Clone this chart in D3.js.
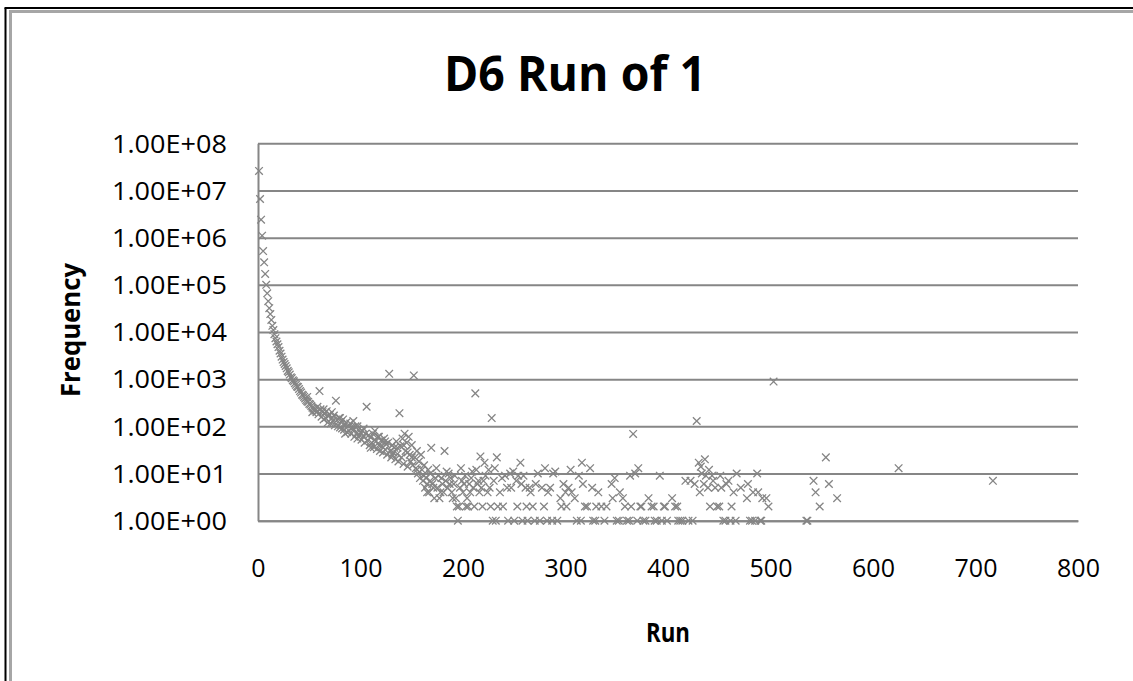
<!DOCTYPE html>
<html>
<head>
<meta charset="utf-8">
<script src="https://cdn.jsdelivr.net/npm/d3@7"></script>
<style>
  html, body { margin: 0; padding: 0; background: #fff; }
  svg { display: block; }
</style>
</head>
<body>
<svg id="chart" width="1133" height="681"></svg>
<script>
// Run length (x) and how often it occurred (y)
const runs = [
  1,2,3,4,5,6,7,8,9,10,11,12,13,14,15,16,17,18,19,20,
  21,22,23,24,25,26,27,28,29,30,31,32,33,34,35,36,37,38,39,40,
  41,42,43,44,45,46,47,48,49,50,51,52,53,54,55,56,57,58,59,60,
  61,62,63,64,65,66,67,68,69,70,71,72,73,74,75,76,77,78,79,80,
  81,82,83,84,85,86,87,88,89,90,91,92,93,94,95,96,97,98,99,100,
  101,102,103,104,105,106,107,108,109,110,111,112,113,114,115,116,117,118,119,120,
  121,122,123,124,125,126,127,128,129,130,131,132,133,134,135,136,137,138,139,140,
  141,142,143,144,145,146,147,148,149,150,151,152,153,154,155,156,157,158,159,160,
  161,162,163,164,165,166,167,168,169,170,172,173,175,176,178,180,182,183,185,186,
  188,189,191,193,194,195,197,199,200,202,204,205,206,208,210,212,213,215,216,217,
  220,221,226,228,229,231,233,236,241,243,244,246,249,252,256,257,259,262,265,266,
  268,273,277,280,283,285,287,288,295,296,298,300,303,306,309,311,313,316,317,321,
  324,326,329,330,335,340,345,346,348,350,353,356,360,363,364,366,368,371,373,376,
  381,386,389,392,396,399,404,409,412,417,420,422,428,430,431,433,436,439,441,443,
  444,448,451,452,456,457,459,462,464,466,467,477,478,482,483,487,488,491,496,498,
  503,535,536,542,544,548,554,557,565,625,717,
  48,53,58,64,72,80,85,93,97,103,110,114,118,124,131,136,142,146,150,155,
  162,165,168,171,174,177,179,181,184,187,190,192,196,198,201,203,207,209,211,214,
  218,219,222,224,225,227,230,232,234,238,239,247,250,253,254,258,261,263,270,271,
  275,279,282,290,292,301,305,315,319,327,332,338,352,358,362,370,374,378,384,387,
  394,397,407,410,414,424,426,432,435,437,440,446,450,454,461,471,480,485,490,492
];
const freqs = [
  26000000,6600000,2400000,1100000,520000,300000,170000,100000,66000,45000,
  32000,24000,18000,13500,11000,9000,7400,6300,5500,4800,
  4000,3500,3000,2600,2300,2100,1900,1700,1500,1400,1250,1100,1050,950,900,820,760,700,680,620,
  560,520,470,450,420,390,360,340,330,300,290,270,250,240,230,215,200,210,180,560,
  230,160,200,140,190,150,210,120,165,175,115,150,130,170,105,350,135,100,150,95,
  125,90,140,85,110,120,75,100,80,115,70,95,85,60,100,70,55,85,65,75,
  52,80,60,45,70,260,50,65,40,58,45,70,36,52,48,33,60,40,30,50,
  38,28,55,32,42,25,45,1300,30,22,40,28,35,20,48,26,18,190,38,22,
  55,16,70,30,45,14,60,25,18,40,15,1200,22,13,30,10,18,8,25,12,
  7,9,5,8,6,12,4,7,35,6,3,8,5,9,4,6,30,7,5,10,
  8,4,6,3,2,1,5,7,4,9,3,2,6,8,5,500,12,7,4,23,
  7,17,5,150,1,13,22,4,9,5,1,10,11,7,17,6,9,2,5,4,
  2,10,5,13,4,5,1,10,3,2,6,4,5,4,3,1,9,17,6,2,
  13,5,1,2,2,2,6,3,8,1,4,3,1,9,2,69,10,13,2,1,
  3,2,1,9,2,1,3,2,1,7,1,7,130,17,4,10,20,5,2,9,
  7,2,9,5,1,6,7,2,4,1,10,3,6,1,4,10,4,1,3,2,
  890,1,1,7,4,2,22,6,3,13,7,
  420,200,260,230,200,150,70,130,100,90,35,80,60,48,25,35,40,28,22,12,
  15,4,10,5,13,3,8,4,11,6,3,9,2,13,6,2,4,11,2,6,
  5,2,9,4,12,2,7,1,2,8,2,5,1,2,9,1,5,1,1,6,
  1,2,1,11,1,2,12,1,2,1,4,1,1,2,1,1,2,1,2,1,
  1,2,2,1,1,1,6,14,6,9,12,5,2,1,1,5,1,1,1,3
];
const xTicks = [0, 100, 200, 300, 400, 500, 600, 700, 800];
const yTicks = [1e0, 1e1, 1e2, 1e3, 1e4, 1e5, 1e6, 1e7, 1e8];
const yTickLabels = ["1.00E+00","1.00E+01","1.00E+02","1.00E+03","1.00E+04","1.00E+05","1.00E+06","1.00E+07","1.00E+08"];

const points = runs.map((r, i) => ({ run: r, freq: freqs[i] }));

const svg = d3.select("#chart");
const FONT = "'Open Sans', 'Noto Sans', 'DejaVu Sans', sans-serif";

// Chart frame: black outer rule, grey inner rule, open on right and bottom
svg.append("line").attr("x1", 5.5).attr("y1", 8).attr("x2", 5.5).attr("y2", 681)
  .attr("stroke", "#000").attr("stroke-width", 2);
svg.append("line").attr("x1", 4.5).attr("y1", 8).attr("x2", 1133).attr("y2", 8)
  .attr("stroke", "#000").attr("stroke-width", 2);
svg.append("line").attr("x1", 10.5).attr("y1", 11.5).attr("x2", 10.5).attr("y2", 681)
  .attr("stroke", "#a6a6a6").attr("stroke-width", 3);
svg.append("line").attr("x1", 9).attr("y1", 11.5).attr("x2", 1133).attr("y2", 11.5)
  .attr("stroke", "#a6a6a6").attr("stroke-width", 3);

const plotLeft = 258, plotRight = 1078, plotTop = 143.3, plotBottom = 520.7;
const x = d3.scaleLinear().domain([0, 800]).range([plotLeft, plotRight]);
const y = d3.scaleLog().domain([1, 1e8]).range([plotBottom, plotTop]);

// Horizontal gridlines with the y tick labels
const yAxis = d3.axisLeft(y)
  .tickValues(yTicks)
  .tickFormat((d, i) => yTickLabels[i])
  .tickSizeInner(-(plotRight - plotLeft))
  .tickSizeOuter(0)
  .tickPadding(31);
const gy = svg.append("g").attr("transform", `translate(${plotLeft},0)`).call(yAxis);
gy.select(".domain").attr("stroke", "#868686").attr("stroke-width", 2);
gy.selectAll(".tick line").attr("stroke", "#868686").attr("stroke-width", 2);
gy.selectAll(".tick text")
  .attr("font-family", FONT).attr("font-size", 25).attr("fill", "#000")
  .attr("textLength", 115).attr("lengthAdjust", "spacingAndGlyphs")
  .attr("dy", "0.35em");

// X axis along the bottom gridline
const xAxis = d3.axisBottom(x)
  .tickValues(xTicks)
  .tickFormat(d3.format("d"))
  .tickSize(0)
  .tickPadding(56);
const gx = svg.append("g").attr("transform", `translate(0,${plotBottom})`).call(xAxis);
gx.select(".domain").attr("stroke", "#868686").attr("stroke-width", 2);
gx.selectAll(".tick text")
  .attr("font-family", FONT).attr("font-size", 25).attr("fill", "#000")
  .attr("dy", "0");

// Scatter markers drawn as small crosses
const cross = "M-3.8,-3.8L3.8,3.8M-3.8,3.8L3.8,-3.8";
svg.append("g").selectAll("path")
  .data(points)
  .join("path")
  .attr("d", cross)
  .attr("transform", d => `translate(${x(d.run)},${y(d.freq)})`)
  .attr("fill", "none")
  .attr("stroke", "#858585")
  .attr("stroke-width", 1.3);

// Title
svg.append("text")
  .attr("x", 575).attr("y", 91)
  .attr("text-anchor", "middle")
  .attr("font-family", FONT).attr("font-weight", "bold").attr("font-size", 48)
  .attr("textLength", 262).attr("lengthAdjust", "spacingAndGlyphs")
  .attr("fill", "#000")
  .text("D6 Run of 1");

// Axis titles
svg.append("text")
  .attr("x", (plotLeft + plotRight) / 2).attr("y", 642)
  .attr("text-anchor", "middle")
  .attr("font-family", FONT).attr("font-weight", "bold").attr("font-size", 26)
  .attr("textLength", 44).attr("lengthAdjust", "spacingAndGlyphs")
  .attr("fill", "#000")
  .text("Run");

svg.append("text")
  .attr("transform", "translate(80,330) rotate(-90)")
  .attr("text-anchor", "middle")
  .attr("font-family", FONT).attr("font-weight", "bold").attr("font-size", 26)
  .attr("textLength", 134).attr("lengthAdjust", "spacingAndGlyphs")
  .attr("fill", "#000")
  .text("Frequency");
</script>
</body>
</html>
